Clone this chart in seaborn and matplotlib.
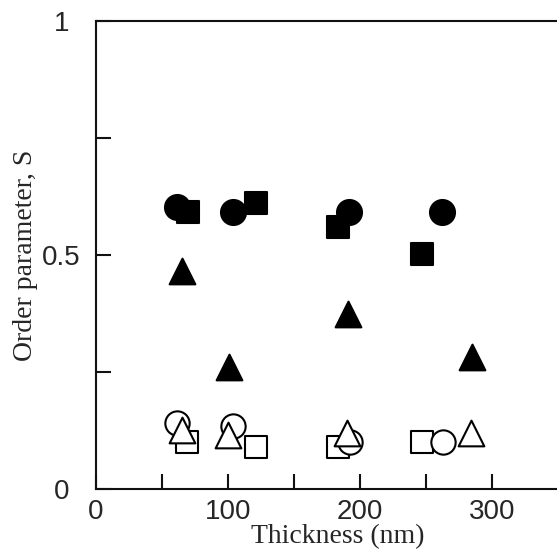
import matplotlib
matplotlib.use("Agg")
import matplotlib.pyplot as plt
from matplotlib.ticker import FixedLocator
import seaborn as sns
import pandas as pd

# filled symbols
circle_fill_x = [61, 104, 192, 262]
circle_fill_y = [0.603, 0.592, 0.592, 0.592]
square_fill_x = [70, 121, 183, 247]
square_fill_y = [0.592, 0.611, 0.560, 0.502]
tri_fill_x = [65, 101, 191, 285]
tri_fill_y = [0.465, 0.261, 0.375, 0.282]

# open symbols
circle_open_x = [61, 104, 192.5, 263]
circle_open_y = [0.141, 0.135, 0.100, 0.100]
square_open_x = [69, 121, 183, 247]
square_open_y = [0.100, 0.090, 0.090, 0.100]
tri_open_x = [65, 100, 190, 284]
tri_open_y = [0.126, 0.115, 0.120, 0.120]

x_ticks = [0, 100, 200, 300]
y_ticks = [0, 0.5, 1]
y_tick_labels = ['0', '0.5', '1']

sns.set_style("ticks")
plt.rcParams['font.family'] = ['Liberation Sans', 'DejaVu Sans']

fig = plt.figure(figsize=(5.57, 5.49), dpi=100)
ax = fig.add_axes([96 / 557, 60 / 549, 462 / 557, 468 / 549])

series = [
    (square_fill_x, square_fill_y, 's', 'black', 16, 2),
    (circle_fill_x, circle_fill_y, 'o', 'black', 18, 2),
    (tri_fill_x, tri_fill_y, '^', 'black', 18.5, 2),
    (square_open_x, square_open_y, 's', 'white', 16, 3),
    (circle_open_x, circle_open_y, 'o', 'white', 17.5, 3),
    (tri_open_x, tri_open_y, '^', 'white', 18.5, 4),
]
for xs, ys, mk, fc, size, z in series:
    df = pd.DataFrame({'x': xs, 'y': ys})
    sns.scatterplot(data=df, x='x', y='y', marker=mk, s=size ** 2, color=fc,
                    edgecolor='black', linewidth=1.5, ax=ax, zorder=z,
                    legend=False, clip_on=False)

ax.set_xlim(0, 350)
ax.set_ylim(0, 1)
ax.xaxis.set_major_locator(FixedLocator(x_ticks))
ax.xaxis.set_minor_locator(FixedLocator([50, 150, 250]))
ax.yaxis.set_major_locator(FixedLocator(y_ticks))
ax.yaxis.set_minor_locator(FixedLocator([0.25, 0.75]))
ax.set_yticklabels(y_tick_labels)
ax.tick_params(which='both', direction='in', length=11, width=1.5,
               color='#111111', labelsize=20)
ax.tick_params(axis='y', pad=25)
ax.tick_params(axis='x', pad=7)
for lbl in ax.get_yticklabels():
    lbl.set_horizontalalignment('center')

for side in ['left', 'bottom', 'top']:
    ax.spines[side].set_linewidth(1.5)
    ax.spines[side].set_color('#111111')
ax.spines['right'].set_visible(False)

ax.set_xlabel('Thickness (nm)', family='Liberation Serif', fontsize=20)
ax.set_ylabel('Order parameter, S', family='Liberation Serif', fontsize=20)
ax.xaxis.set_label_coords(0.523, -0.075)
ax.yaxis.set_label_coords(-0.125, 0.5)

fig.savefig('out.png', dpi=100)
